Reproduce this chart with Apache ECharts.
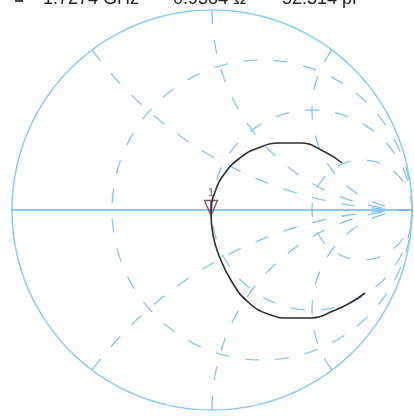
<!DOCTYPE html>
<html>
<head>
<meta charset="utf-8">
<script src="https://cdn.jsdelivr.net/npm/echarts@6/dist/echarts.min.js"></script>
<style>html,body{margin:0;padding:0;background:#fff;}#c{width:414px;height:416px;}</style>
</head>
<body>
<div id="c"></div>
<script>
// Smith chart grid values (normalized resistance circles and reactance arcs)
const rCircles = [1/3, 1, 3];
const xArcs = [0.5, 1, 2];
const traceRe = [0.650, 0.565, 0.440, 0.340, 0.230, 0.140, 0.065, 0.015, -0.005, 0.005, 0.040, 0.100, 0.180, 0.280, 0.390, 0.500, 0.605, 0.690, 0.765];
const traceIm = [0.235, 0.290, 0.335, 0.335, 0.310, 0.260, 0.185, 0.090, -0.010, -0.125, -0.240, -0.360, -0.460, -0.520, -0.540, -0.540, -0.505, -0.465, -0.415];
const markerIndex = 8;
const markerLabel = '1';
// Marker readout texts (top, partially clipped)
const readoutFreq = '1.7274 GHz';
const readoutRes = '0.9384 Ω';
const readoutCap = '-52.314 pF';

const gridColor = '#86c3ec';
function circlePts(cx, cy, rad, n) {
  const p = [];
  for (let i = 0; i <= n; i++) {
    const a = 2 * Math.PI * i / n;
    p.push([cx + rad * Math.cos(a), cy + rad * Math.sin(a)]);
  }
  return p;
}
function reactancePts(x) {
  const p = [];
  const n = 400;
  for (let i = 0; i < n; i++) {
    const t = i / n;
    const r = t / (1 - t);
    const den = (r + 1) * (r + 1) + x * x;
    p.push([(r * r + x * x - 1) / den, 2 * x / den]);
  }
  p.push([1, 0]);
  return p;
}
const series = [];
// outer circle
series.push({type:'line', data: circlePts(0,0,1,360), showSymbol:false, silent:true,
  lineStyle:{color:'#8ccbef', width:1.5}, z:2});
// real axis
series.push({type:'line', data: [[-1,0],[1,0]], showSymbol:false, silent:true,
  lineStyle:{color:'#6fb5e4', width:1.6}, z:2});
rCircles.forEach(r => {
  series.push({type:'line', data: circlePts(r/(1+r),0,1/(1+r),360), showSymbol:false, silent:true,
    lineStyle:{color:gridColor, width:1.3, type:[14,16]}, z:1});
});
xArcs.forEach(x => {
  [x, -x].forEach(v => {
    series.push({type:'line', data: reactancePts(v), showSymbol:false, silent:true,
      lineStyle:{color:gridColor, width:1.3, type:[14,16]}, z:1});
  });
});
// trace
series.push({type:'line', data: traceRe.map((v,i)=>[v, traceIm[i]]), smooth:true, showSymbol:false,
  lineStyle:{color:'#2e2e2e', width:1.6}, z:5});
// marker
series.push({type:'scatter', data:[[traceRe[markerIndex], traceIm[markerIndex]]],
  symbol:'path://M0,0 L14,0 L7,16 Z M7,0 L7,16', symbolSize:[13,15], symbolOffset:[0,-4],
  itemStyle:{color:'rgba(0,0,0,0)', borderColor:'#5c2a36', borderWidth:1.4}, z:6,
  label:{show:true, formatter: markerLabel, position:'top', distance:1, color:'#6a1f2c', fontSize:11, fontFamily:'Liberation Sans'}});

const chart = echarts.init(document.getElementById('c'), null, {renderer:'canvas'});
chart.setOption({
  animation:false,
  backgroundColor:'#ffffff',
  grid:{left:12, right:2, top:10, bottom:6},
  xAxis:{type:'value', min:-1, max:1, show:false},
  yAxis:{type:'value', min:-1, max:1, show:false},
  series: series,
  graphic:[
    {type:'rect', shape:{x:15, y:0, width:8, height:2}, style:{fill:'#444'}},
    {type:'text', style:{text: readoutFreq, x:43, y:-10, font:'18px Liberation Sans', fill:'#222'}},
    {type:'text', style:{text: readoutRes, x:173, y:-10, font:'18px Liberation Sans', fill:'#222'}},
    {type:'text', style:{text: readoutCap, x:276, y:-10, font:'18px Liberation Sans', fill:'#222'}}
  ]
});
</script>
</body>
</html>
